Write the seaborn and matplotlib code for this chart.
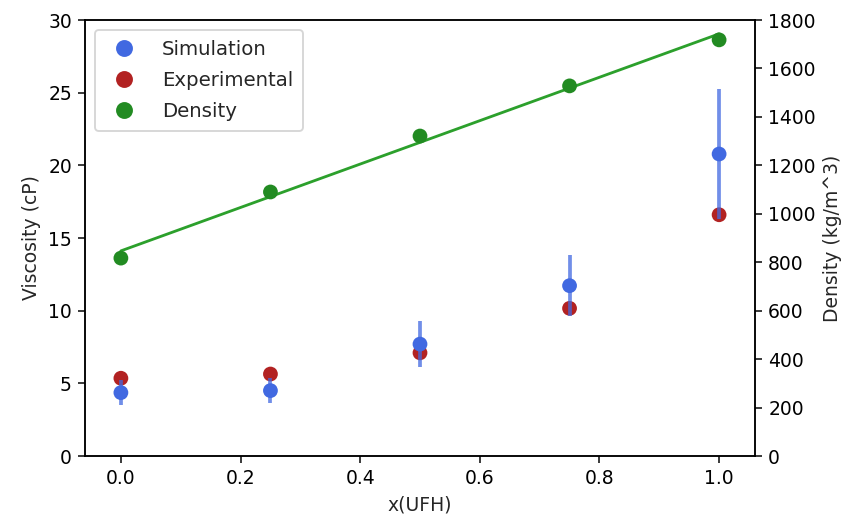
import numpy as np
import pandas as pd
import matplotlib
matplotlib.use("Agg")
import matplotlib.pyplot as plt
import seaborn as sns

# Data
x_ufh = [0.0, 0.25, 0.5, 0.75, 1.0]
sim_visc = [4.36, 4.5, 7.7, 11.72, 20.78]
sim_err = [0.85, 0.85, 1.6, 2.1, 4.45]
exp_visc = [5.35, 5.64, 7.1, 10.16, 16.6]
density = [817, 1090, 1321, 1528, 1718]

visc_ticks = [0, 5, 10, 15, 20, 25, 30]
dens_ticks = [0, 200, 400, 600, 800, 1000, 1200, 1400, 1600, 1800]

df = pd.DataFrame({"x": x_ufh, "sim": sim_visc, "err": sim_err,
                   "exp": exp_visc, "dens": density})

sns.set_style("ticks")
plt.rcParams["font.family"] = ["DejaVu Sans"]

dpi = 135
fig = plt.figure(figsize=(845 / dpi, 521 / dpi), dpi=dpi)
ax1 = fig.add_axes([85 / 845, 1 - 456 / 521, (755 - 85) / 845, (456 - 20) / 521])
ax2 = ax1.twinx()

blue = "#4169E1"
red = "#B22222"
green = "#228B22"
msize = 62

sns.scatterplot(data=df, x="x", y="exp", ax=ax1, color=red, s=msize,
                edgecolor="none", zorder=2, legend=False)
sns.scatterplot(data=df, x="x", y="sim", ax=ax1, color=blue, s=msize,
                edgecolor="none", zorder=3, legend=False)
ax1.errorbar(df["x"], df["sim"], yerr=df["err"], fmt="none",
             ecolor=blue, elinewidth=2, alpha=0.75, zorder=4)

sns.regplot(data=df, x="x", y="dens", ax=ax2, scatter=False, ci=None,
            truncate=True, color="#2ca02c", line_kws={"linewidth": 1.5})
sns.scatterplot(data=df, x="x", y="dens", ax=ax2, color=green, s=msize,
                edgecolor="none", zorder=3, legend=False)

ax1.set_xlim(-0.06, 1.06)
ax1.set_ylim(0, 30)
ax2.set_ylim(0, 1800)
ax1.set_yticks(visc_ticks)
ax2.set_yticks(dens_ticks)
ax1.set_xticks([0.0, 0.2, 0.4, 0.6, 0.8, 1.0])
ax1.set_xlabel("x(UFH)")
ax1.set_ylabel("Viscosity (cP)")
ax2.set_ylabel("Density (kg/m^3)")

for ax in (ax1, ax2):
    for sp in ax.spines.values():
        sp.set_visible(True)
        sp.set_color("black")
        sp.set_linewidth(0.8)
    ax.tick_params(colors="black", width=0.8, length=3.5)

h1 = plt.Line2D([], [], marker="o", linestyle="", color=blue, markersize=8)
h2 = plt.Line2D([], [], marker="o", linestyle="", color=red, markersize=8)
h3 = plt.Line2D([], [], marker="o", linestyle="", color=green, markersize=8)
ax2.legend([h1, h2, h3], ["Simulation", "Experimental", "Density"],
           loc="upper left", frameon=True, fontsize=10.5, handletextpad=0.9,
           labelspacing=0.62, borderpad=0.5)

fig.savefig("out.png", dpi=dpi)
